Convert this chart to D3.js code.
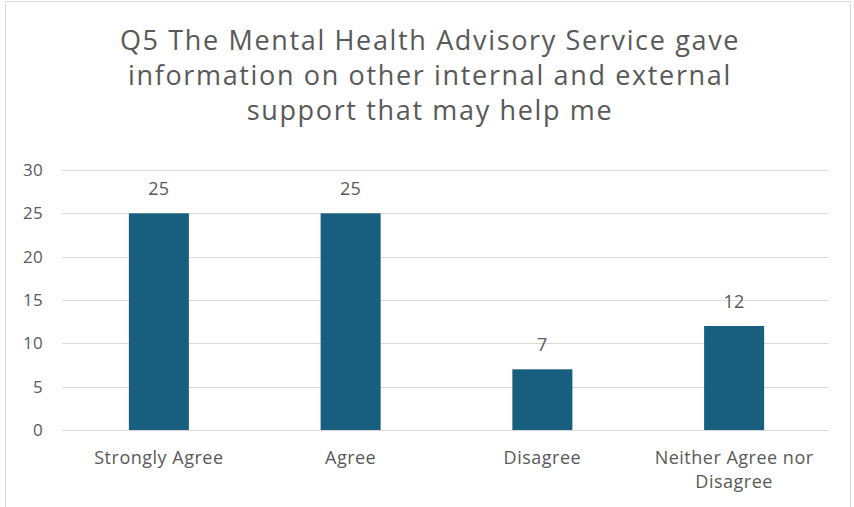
<!DOCTYPE html>
<html>
<head>
<meta charset="utf-8">
<script src="https://cdn.jsdelivr.net/npm/d3@7"></script>
<style>
  html, body { margin: 0; padding: 0; background: #fff; }
  svg { display: block; }
  text { font-family: "Open Sans", "Noto Sans", sans-serif; fill: #595959; }
</style>
</head>
<body>
<svg id="chart" width="854" height="507"></svg>
<script>
const titleLines = [
  "Q5 The Mental Health Advisory Service gave",
  "information on other internal and external",
  "support that may help me"
];
const categories = ["Strongly Agree", "Agree", "Disagree", "Neither Agree nor Disagree"];
const categoryLines = [["Strongly Agree"], ["Agree"], ["Disagree"], ["Neither Agree nor", "Disagree"]];
const values = [25, 25, 7, 12];
const yTicks = [0, 5, 10, 15, 20, 25, 30];

const svg = d3.select("#chart");
const plot = { left: 63, right: 830, top: 170, bottom: 430 };

// chart frame
svg.append("rect")
  .attr("x", 5.5).attr("y", 1.5)
  .attr("width", 845).attr("height", 510)
  .attr("fill", "#fff").attr("stroke", "#d9d9d9").attr("stroke-width", 1);

// title
const title = svg.append("text")
  .attr("text-anchor", "middle")
  .style("font-size", "27px")
  .style("letter-spacing", "1.65px");
titleLines.forEach((line, i) => {
  title.append("tspan").attr("x", 430).attr("y", 50 + i * 35).text(line);
});

const x = d3.scaleBand().domain(categories).range([plot.left, plot.right]).paddingInner(0.687).paddingOuter(0.3435);
const y = d3.scaleLinear().domain([0, 30]).range([plot.bottom, plot.top]);

// gridlines
svg.append("g")
  .selectAll("line")
  .data(yTicks)
  .join("line")
  .attr("x1", plot.left - 1).attr("x2", plot.right - 1)
  .attr("y1", d => Math.round(y(d)) + 0.5).attr("y2", d => Math.round(y(d)) + 0.5)
  .attr("stroke", "#d9d9d9").attr("stroke-width", 1);

// y axis labels
const yAxis = d3.axisLeft(y).tickValues(yTicks).tickSize(0).tickPadding(0);
const yg = svg.append("g").attr("transform", `translate(43,0)`).call(yAxis);
yg.select(".domain").remove();
yg.selectAll("text")
  .style("font-size", "17px")
  .style("letter-spacing", "0.3px")
  .attr("fill", "#595959")
  .style("font-family", "'Open Sans', sans-serif");

// bars
svg.append("g")
  .selectAll("rect")
  .data(values)
  .join("rect")
  .attr("x", (d, i) => x(categories[i]))
  .attr("width", x.bandwidth())
  .attr("y", d => y(d))
  .attr("height", d => y(0) - y(d))
  .attr("fill", "#185e7f");

// value labels
svg.append("g")
  .selectAll("text")
  .data(values)
  .join("text")
  .attr("x", (d, i) => x(categories[i]) + x.bandwidth() / 2)
  .attr("y", d => y(d) - 18)
  .attr("text-anchor", "middle")
  .style("font-size", "18px")
  .style("letter-spacing", "0.3px")
  .text(d => d);

// category labels
const cl = svg.append("g")
  .selectAll("text")
  .data(categories)
  .join("text")
  .attr("text-anchor", "middle")
  .style("font-size", "18px")
  .style("letter-spacing", "0.5px");
cl.each(function (c, i) {
  const t = d3.select(this);
  categoryLines[i].forEach((line, j) => {
    t.append("tspan")
      .attr("x", x(c) + x.bandwidth() / 2)
      .attr("y", 464 + j * 24)
      .text(line);
  });
});
</script>
</body>
</html>
